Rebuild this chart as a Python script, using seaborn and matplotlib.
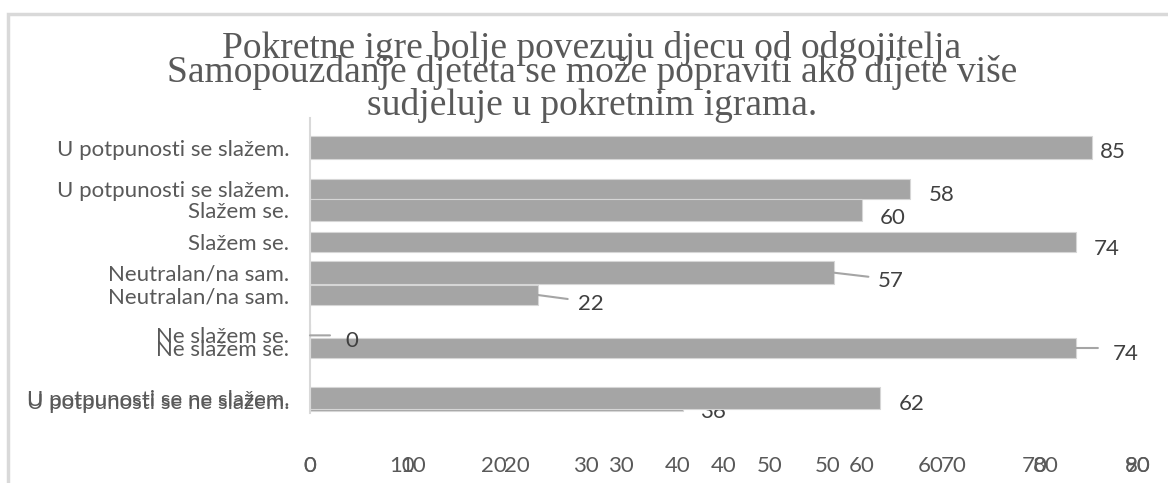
import matplotlib
matplotlib.use("Agg")
import matplotlib.pyplot as plt
import seaborn as sns
import pandas as pd
from matplotlib.patches import Rectangle

# ---------------- data ----------------
categories = ["U potpunosti se slažem.", "Slažem se.", "Neutralan/na sam.",
              "Ne slažem se.", "U potpunosti se ne slažem."]
values_a = [85, 60, 57, 0, 62]      # chart "Pokretne igre ..."
values_b = [58, 74, 22, 74, 36]     # chart "Samopouzdanje ..."
title_a = "Pokretne igre bolje povezuju djecu od odgojitelja"
title_b = "Samopouzdanje djeteta se može popraviti ako dijete više\nsudjeluje u pokretnim igrama."
ticks_a = list(range(0, 91, 10))
ticks_b = list(range(0, 81, 10))

# ---------------- style ----------------
sns.set_theme(style="white")
plt.rcParams['font.family'] = ['Lato', 'DejaVu Sans']

W, H = 1168, 483
fig = plt.figure(figsize=(W / 100, H / 100), dpi=100)
fig.patch.set_facecolor("white")

def box(left, right, top, bottom):
    return [left / W, 1 - bottom / H, (right - left) / W, (bottom - top) / H]

BAR = "#a5a5a5"
TXT = "#595959"
LBL = "#404040"
LINE = "#d9d9d9"
FS = 16

ax_b = fig.add_axes(box(310, 1138, 162.5, 427.5))
ax_a = fig.add_axes(box(310, 1138, 116.2, 429.3))

df_a = pd.DataFrame({"cat": categories, "val": values_a})
df_b = pd.DataFrame({"cat": categories, "val": values_b})

sns.barplot(data=df_b, x="val", y="cat", orient="h", color=BAR, saturation=1,
            width=0.37, edgecolor="#d6d6d6", linewidth=0.8, ax=ax_b)
sns.barplot(data=df_a, x="val", y="cat", orient="h", color=BAR, saturation=1,
            width=0.36, edgecolor="#d6d6d6", linewidth=0.8, ax=ax_a)

for ax, ticks, lim, xpad in ((ax_a, ticks_a, 90, 27), (ax_b, ticks_b, 80, 28.5)):
    ax.set_xlim(0, lim)
    ax.set_xticks(ticks)
    ax.set_xticklabels([str(t) for t in ticks])
    ax.set_ylim(4.5, -0.5)
    ax.set_xlabel("")
    ax.set_ylabel("")
    ax.patch.set_alpha(0)
    for s in ax.spines.values():
        s.set_visible(False)
    ax.tick_params(axis="x", length=0, pad=xpad * 0.72, labelsize=FS, labelcolor=TXT)
    ax.tick_params(axis="y", length=0, pad=15, labelsize=FS, labelcolor=TXT)

ax_a.spines["left"].set_visible(True)
ax_a.spines["left"].set_color(LINE)
ax_a.spines["left"].set_linewidth(1.5)
ax_a.spines["left"].set_bounds(-0.47, 4.24)

# ---------------- data labels ----------------
# (dx, dy) pixel offsets of label left/centre from bar end; optional leader line end
labels_a = [(8, 4, None), (18, 8, None), (43, 8, (34, 4)), (35, 6, (20, 0)), (18, 6, None)]
labels_b = [(18, 6, None), (18, 7, None), (40, 9, (30, 4)), (37, 6, (22, 0)), (17, 11, None)]

def add_labels(ax, vals, offs):
    for i, (v, (dx, dy, lead)) in enumerate(zip(vals, offs)):
        if lead is not None:
            ax.annotate("", xy=(v, i), xytext=(lead[0], -lead[1]),
                        textcoords="offset pixels",
                        arrowprops=dict(arrowstyle="-", color="#a5a5a5", lw=1.5,
                                        shrinkA=0, shrinkB=0))
        ax.annotate(str(v), xy=(v, i), xytext=(dx, -dy), textcoords="offset pixels",
                    ha="left", va="center", fontsize=FS, color=LBL)

add_labels(ax_b, values_b, labels_b)
add_labels(ax_a, values_a, labels_a)

# ---------------- titles ----------------
fig.text(592 / W, 1 - 49 / H, title_a, ha="center", va="center",
         fontsize=27, color=TXT, family=["Liberation Serif"])
fig.text(592 / W, 1 - 89 / H, title_b, ha="center", va="center",
         fontsize=27, color=TXT, family=["Liberation Serif"], linespacing=0.95)

# ---------------- outer frame ----------------
fig.add_artist(Rectangle((8 / W, -0.2), 1.5, 1.2 - 14 / H, transform=fig.transFigure,
                         fill=False, edgecolor=LINE, lw=2.5))

fig.savefig("out.png", dpi=100)
